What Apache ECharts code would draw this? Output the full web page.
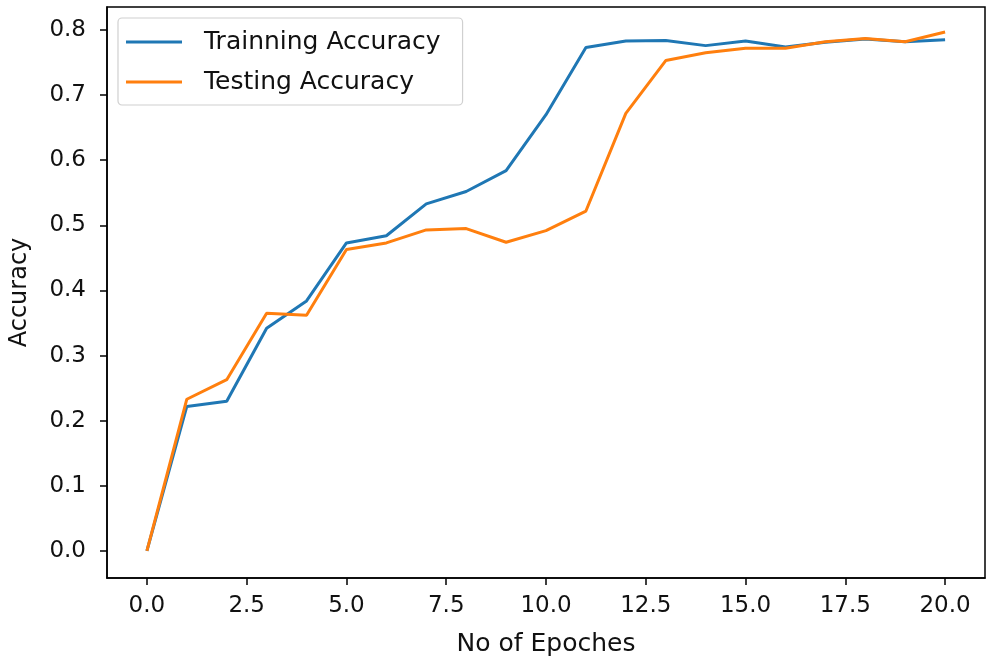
<!DOCTYPE html>
<html>
<head>
<meta charset="utf-8">
<script src="https://cdn.jsdelivr.net/npm/echarts@6/dist/echarts.min.js"></script>
<style>html,body{margin:0;padding:0;background:#fff;}#c{width:991px;height:666px;}</style>
</head>
<body>
<div id="c"></div>
<script>
const epochs = [0,1,2,3,4,5,6,7,8,9,10,11,12,13,14,15,16,17,18,19,20];
const trainAcc = [0.0,0.222,0.230,0.342,0.384,0.473,0.484,0.533,0.552,0.584,0.670,0.773,0.783,0.784,0.776,0.783,0.774,0.781,0.786,0.782,0.785];
const testAcc = [0.0,0.233,0.263,0.365,0.362,0.463,0.473,0.493,0.495,0.474,0.492,0.522,0.672,0.753,0.765,0.772,0.772,0.782,0.787,0.782,0.797];
const xTicks = [0,2.5,5,7.5,10,12.5,15,17.5,20];
const yTicks = [0,0.1,0.2,0.3,0.4,0.5,0.6,0.7,0.8];
const seriesNames = ['Trainning Accuracy','Testing Accuracy'];

const font = 'DejaVu Sans';
const chart = echarts.init(document.getElementById('c'));
chart.setOption({
  animation: false,
  backgroundColor: '#fff',
  grid: {left: 105, right: 6, top: 7, bottom: 88, show: true, borderColor: '#000', borderWidth: 1.5, backgroundColor: 'transparent'},
  legend: {
    orient: 'vertical', left: 118, top: 18,
    padding: [11, 22, 10, 8],
    backgroundColor: '#fff', borderColor: '#d0d0d0', borderWidth: 1.2, borderRadius: 4,
    itemWidth: 56, itemHeight: 3, itemGap: 14,
    icon: 'rect',
    textStyle: {fontFamily: font, fontSize: 25, color: '#111', lineHeight: 26, padding: [0,0,0,17]},
    data: seriesNames
  },
  xAxis: {
    type: 'value', min: -1, max: 21,
    name: 'No of Epoches', nameLocation: 'middle', nameGap: 54,
    nameTextStyle: {fontFamily: font, fontSize: 25, color: '#111'},
    axisLine: {show: true, onZero: false, lineStyle: {color: '#000', width: 1.5}},
    axisTick: {show: true, length: 7, lineStyle: {color: '#000', width: 1.5}, customValues: xTicks},
    axisLabel: {fontFamily: font, fontSize: 23, color: '#111', margin: 17, customValues: xTicks,
      formatter: v => v.toFixed(1)},
    splitLine: {show: false}
  },
  yAxis: {
    type: 'value', min: -0.0415, max: 0.8353,
    name: 'Accuracy', nameLocation: 'middle', nameGap: 75, nameRotate: 90,
    nameTextStyle: {fontFamily: font, fontSize: 24, color: '#111'},
    axisLine: {show: true, onZero: false, lineStyle: {color: '#000', width: 1.5}},
    axisTick: {show: true, length: 7, lineStyle: {color: '#000', width: 1.5}, customValues: yTicks},
    axisLabel: {fontFamily: font, fontSize: 23, color: '#111', margin: 21, customValues: yTicks,
      formatter: v => v.toFixed(1)},
    splitLine: {show: false}
  },
  series: [
    {name: seriesNames[0], type: 'line', data: epochs.map((e,i)=>[e, trainAcc[i]]), showSymbol: false, symbol: 'none',
      lineStyle: {color: '#1f77b4', width: 3}, itemStyle: {color: '#1f77b4'}},
    {name: seriesNames[1], type: 'line', data: epochs.map((e,i)=>[e, testAcc[i]]), showSymbol: false, symbol: 'none',
      lineStyle: {color: '#ff7f0e', width: 3}, itemStyle: {color: '#ff7f0e'}}
  ]
});
</script>
</body>
</html>
